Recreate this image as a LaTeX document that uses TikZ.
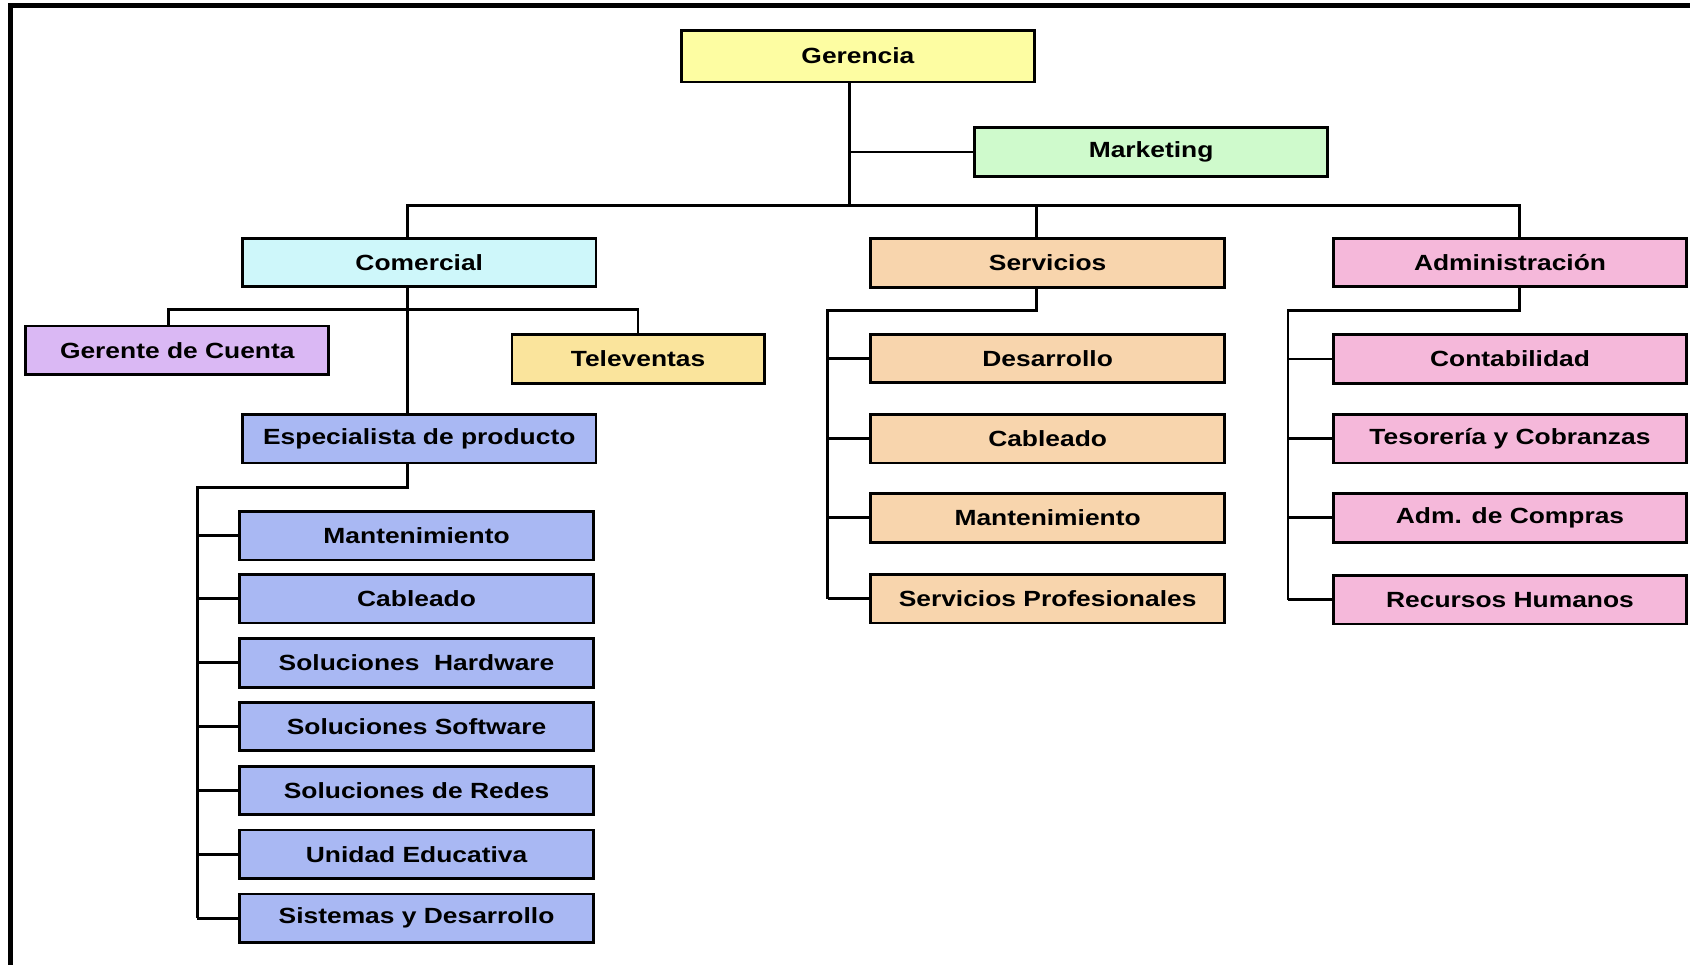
\documentclass[tikz,border=0pt]{standalone}
\usepackage{fontspec}
\setmainfont{Liberation Sans}[FakeStretch=1.2]
\usepackage{tikz}
\usetikzlibrary{positioning}
\usetikzlibrary{calc}
\definecolor{cgerencia}{HTML}{FDFDA2}
\definecolor{cmarketing}{HTML}{CFFACC}
\definecolor{ccomercial}{HTML}{CEF7FA}
\definecolor{cservicios}{HTML}{F8D5AD}
\definecolor{cadmin}{HTML}{F5B8DA}
\definecolor{cgerente}{HTML}{DAB8F4}
\definecolor{cteleventas}{HTML}{FAE49C}
\definecolor{cproducto}{HTML}{A9B8F3}
\tikzstyle{unit}=[draw=black,line width=1.3pt,minimum width=164pt,minimum height=22.5pt,inner sep=0pt,font=\bfseries\fontsize{10.2}{12}\selectfont]
\tikzstyle{link}=[draw,line width=1.3pt]

\begin{document}
\begin{tikzpicture}[x=0.5pt,y=-0.5pt]
    \useasboundingbox (0,0) rectangle (1568,895);
    \draw[line width=2.2pt] (10,895) -- (10,5) -- (1568,5);

    % top level
    \node[unit,fill=cgerencia,minimum height=24pt] (gerencia) at (796,52) {Gerencia};
    \node[unit,fill=cmarketing] (marketing) at (1068,141) {Marketing};
    \node[unit,fill=ccomercial] (comercial) at (389,243.5) {Comercial};
    \node[unit,fill=cservicios] (servicios) at (972,244) {Servicios};
    \node[unit,fill=cadmin] (admin) at (1401,243.5) {Administración};

    \coordinate (gx) at (788,191);
    \coordinate (cx) at (378,191);
    \coordinate (sx) at (962,191);
    \coordinate (ax) at (1410,191);
    \draw[link] (gerencia.south -| gx) -- (gx);
    \draw[link] (marketing.west) -- (marketing.west -| gx);
    \draw[link] (cx |- comercial.north) -- (cx) -- (ax) -- (ax |- admin.north);
    \draw[link] (sx) -- (sx |- servicios.north);

    % comercial
    \node[unit,fill=cgerente,minimum width=140.5pt] (gerente) at (164.5,325) {Gerente de Cuenta};
    \node[unit,fill=cteleventas,minimum width=117pt] (televentas) at (592,333) {Televentas};
    \node[unit,fill=cproducto] (especialista) at (389,407) {Especialista de producto};

    \coordinate (cbus) at (156,287);
    \draw[link] (cx |- comercial.south) -- (cx |- especialista.north);
    \draw[link] (cbus |- gerente.north) -- (cbus) -- (televentas.north |- cbus) -- (televentas.north);

    \foreach \y/\name/\txt in {497/pman/Mantenimiento, 555.5/pcab/Cableado,
            615/phard/Soluciones\ \ Hardware, 674/psoft/Soluciones Software,
            733.5/predes/Soluciones de Redes, 792.5/punid/Unidad Educativa,
            852/psis/Sistemas y Desarrollo}
            \node[unit,fill=cproducto] (\name) at (386.5,\y) {\txt};
    \coordinate (ebus) at (183,452);
    \draw[link] (cx |- especialista.south) -- (cx |- ebus) -- (ebus) -- (ebus |- psis.west);
    \foreach \name in {pman,pcab,phard,psoft,predes,punid,psis}
            \draw[link] (\name.west) -- (\name.west -| ebus);

    % servicios
    \foreach \y/\name/\txt in {332.5/sdes/Desarrollo, 407/scab/Cableado,
            480.5/sman/Mantenimiento, 555.5/spro/Servicios Profesionales}
            \node[unit,fill=cservicios] (\name) at (972,\y) {\txt};
    \coordinate (sbus) at (768,288);
    \draw[link] (sx |- servicios.south) -- (sx |- sbus) -- (sbus) -- (sbus |- spro.west);
    \foreach \name in {sdes,scab,sman,spro}
            \draw[link] (\name.west) -- (\name.west -| sbus);

    % administracion
    \foreach \y/\name/\txt in {333/acon/Contabilidad, 407/ates/Tesorería y Cobranzas,
            480.5/acom/Adm. de Compras, 556.5/arec/Recursos Humanos}
            \node[unit,fill=cadmin] (\name) at (1401,\y) {\txt};
    \coordinate (abus) at (1195,288);
    \draw[link] (ax |- admin.south) -- (ax |- abus) -- (abus) -- (abus |- arec.west);
    \foreach \name in {acon,ates,acom,arec}
            \draw[link] (\name.west) -- (\name.west -| abus);

\end{tikzpicture}
\end{document}
